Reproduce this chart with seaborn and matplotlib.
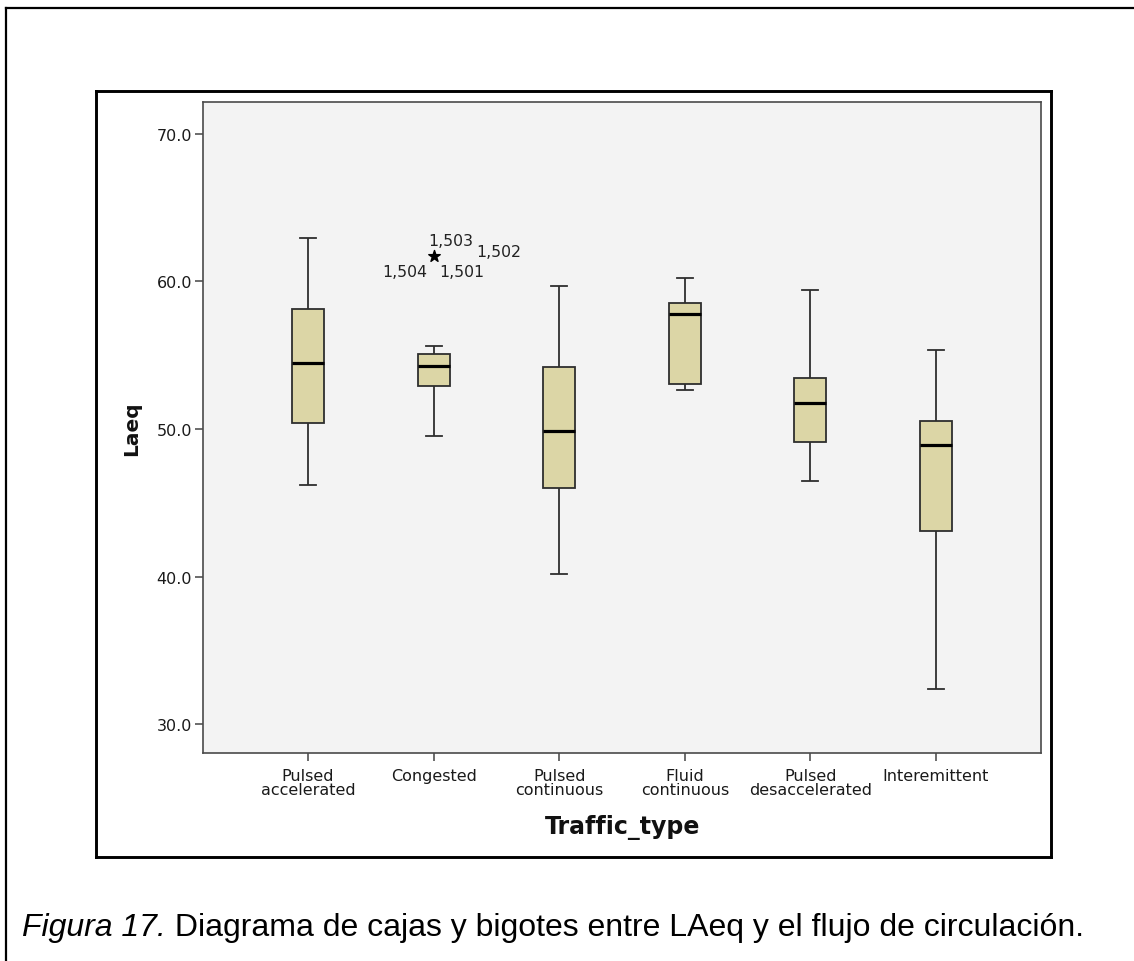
import numpy as np
import pandas as pd
import seaborn as sns
import matplotlib.pyplot as plt
from matplotlib.lines import Line2D
from matplotlib.text import Annotation

# ---------------- data ----------------
categories = ["Pulsed\naccelerated", "Congested", "Pulsed\ncontinuous",
              "Fluid\ncontinuous", "Pulsed\ndesaccelerated", "Interemittent"]
# five-number summaries: lower whisker, Q1, median, Q3, upper whisker
pulsed_accelerated = [46.2, 50.4, 54.5, 58.1, 62.9]
congested = [49.55, 52.9, 54.25, 55.05, 55.65]
pulsed_continuous = [40.2, 46.0, 49.85, 54.2, 59.7]
fluid_continuous = [52.65, 53.05, 57.8, 58.5, 60.2]
pulsed_desaccelerated = [46.5, 49.15, 51.75, 53.45, 59.4]
interemittent = [32.4, 43.1, 48.9, 50.55, 55.35]
outlier_category = "Congested"
outlier_value = 61.7
outlier_ids = ["1,503", "1,502", "1,504", "1,501"]
y_ticks = [30, 40, 50, 60, 70]
x_title = "Traffic_type"
y_title = "Laeq"
caption_italic = "Figura 17."
caption_rest = " Diagrama de cajas y bigotes entre LAeq y el flujo de circulación."

series = [pulsed_accelerated, congested, pulsed_continuous,
          fluid_continuous, pulsed_desaccelerated, interemittent]
df = pd.DataFrame({
    "Traffic_type": np.repeat(categories, [len(s) for s in series]),
    "Laeq": np.concatenate(series),
})

# ---------------- style ----------------
plt.rcParams["font.family"] = ["DejaVu Sans"]
W, H = 1134, 962
fig = plt.figure(figsize=(W / 100, H / 100), dpi=100)
fig.patch.set_facecolor("white")

def fx(px):
    return px / W

def fy(py):
    return 1 - py / H

ax_l, ax_r, ax_t, ax_b = 203.3, 1041.0, 102.5, 754.3
ax = fig.add_axes([fx(ax_l), fy(ax_b), fx(ax_r - ax_l), (ax_b - ax_t) / H])
ax.set_facecolor("#F3F3F3")

box_color = "#DCD6A6"
line_color = "#2E2E2E"
sns.boxplot(data=df, x="Traffic_type", y="Laeq", order=categories,
            width=0.255, color=box_color, saturation=1, whis=(0, 100),
            showfliers=False, linecolor=line_color, linewidth=1.3,
            medianprops=dict(color="black", linewidth=2.3), ax=ax)

# extreme outlier (asterisk) with case labels
ox = categories.index(outlier_category)
ax.scatter([ox], [outlier_value], marker="*", s=75, color="black", zorder=5)
label_offsets = [(17, 16), (65, 5), (-29, -15), (28, -15)]
for lab, (dx, dy) in zip(outlier_ids, label_offsets):
    ax.annotate(lab, xy=(ox, outlier_value), xytext=(dx, dy),
                textcoords="offset pixels", ha="center", va="center",
                fontsize=11.3, color="#222222")

ax.set_xlim(-0.834, 5.836)
ax.set_ylim(28.05, 72.17)
ax.set_yticks(y_ticks)
ax.set_yticklabels([f"{v:.1f}" for v in y_ticks])
ax.tick_params(axis="both", direction="out", length=6, width=1.1,
               color="#444444", labelsize=11.5, labelcolor="#1a1a1a", pad=2)
ax.tick_params(axis="x", pad=4.5)
for lab in ax.get_xticklabels():
    lab.set_linespacing(0.95)

for sp in ax.spines.values():
    sp.set_visible(True)
    sp.set_color("#4a4a4a")
    sp.set_linewidth(1.2)

ax.set_xlabel(x_title, fontsize=17, fontweight="bold", color="#111111")
ax.set_ylabel(y_title, fontsize=14.5, fontweight="bold", color="#111111")
ax.xaxis.set_label_coords(0.5, (ax_b - 828) / (ax_b - ax_t))
ax.xaxis.label.set_va("center")
ax.yaxis.set_label_coords((132 - ax_l) / (ax_r - ax_l), 0.5)
ax.yaxis.label.set_va("center")

# inner chart frame (thick)
fl, fr, ft, fb = 95.7, 1050.7, 92.3, 857.5
for xs, ys in [((fl, fr), (ft, ft)), ((fl, fr), (fb, fb)),
               ((fl, fl), (ft, fb)), ((fr, fr), (ft, fb))]:
    fig.add_artist(Line2D([fx(x) for x in xs], [fy(y) for y in ys],
                          color="black", linewidth=2.1,
                          solid_capstyle="projecting"))

# outer frame (left and top edges visible)
fig.add_artist(Line2D([fx(6), fx(6)], [fy(9), fy(H + 5)], color="black",
                      linewidth=1.6, solid_capstyle="projecting"))
fig.add_artist(Line2D([fx(6), fx(W + 5)], [fy(9), fy(9)], color="black",
                      linewidth=1.6, solid_capstyle="projecting"))

# caption
cap_size = 23
t1 = fig.text(fx(22), fy(928), caption_italic, fontsize=cap_size, style="italic",
              family=["Liberation Sans", "DejaVu Sans"], va="center",
              ha="left", color="black")
t2 = Annotation(caption_rest, xy=(1, 0.5), xycoords=t1, va="center",
                ha="left", fontsize=cap_size,
                family=["Liberation Sans", "DejaVu Sans"], color="black")
fig.add_artist(t2)

fig.savefig("out.png", dpi=100, facecolor="white")
